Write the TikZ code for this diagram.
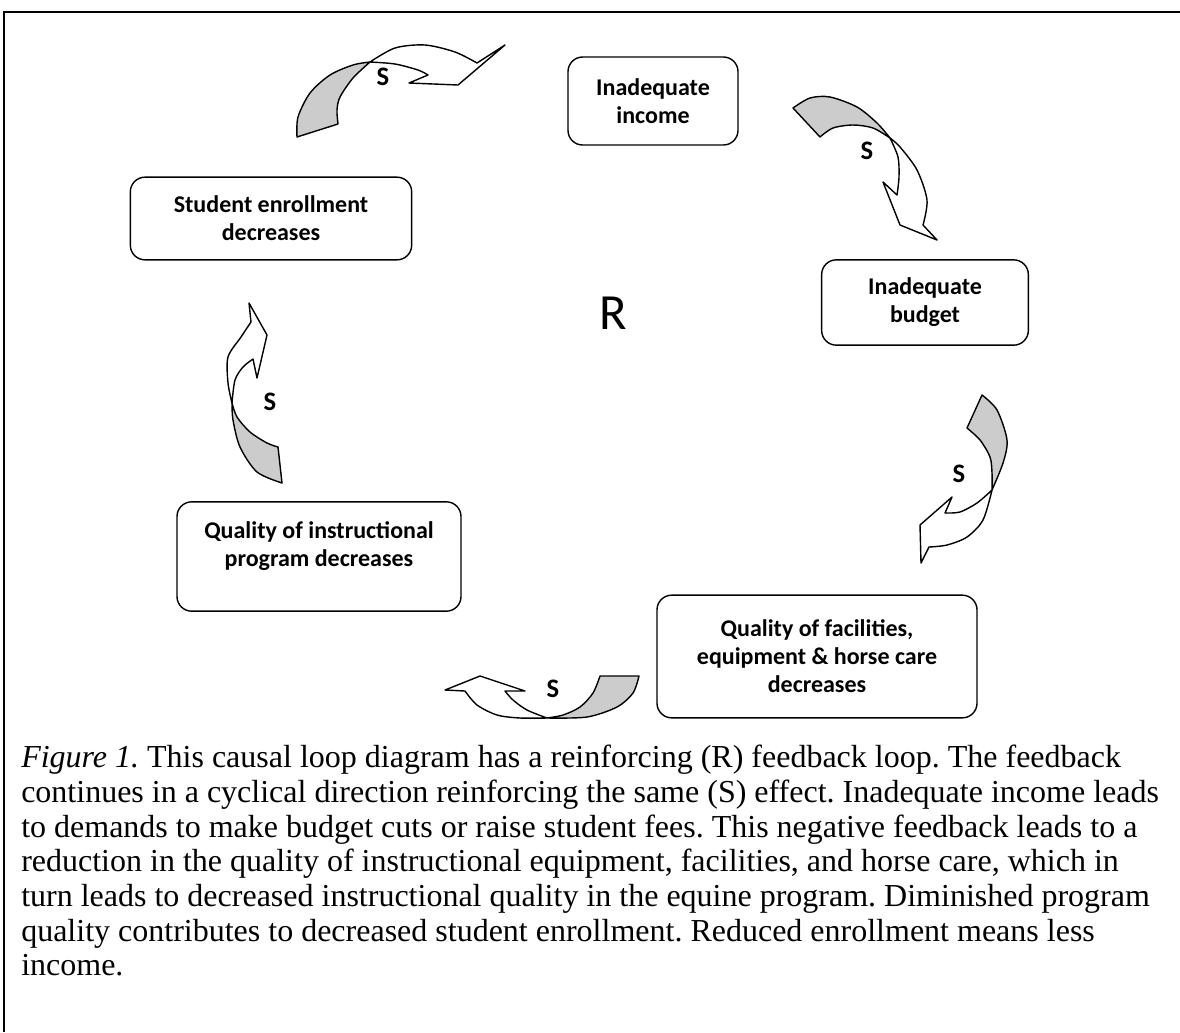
\documentclass[tikz,border=0pt]{standalone}
\usepackage{fontspec}
\setmainfont{Liberation Serif}
\newfontfamily\calibri{Carlito}
\frenchspacing

\begin{document}
\begin{tikzpicture}[x=0.75pt, y=-0.75pt,
box/.style={draw, rounded corners=11pt, line width=1.05pt, align=center,
              inner sep=0pt, font=\calibri\bfseries\fontsize{18}{21}\selectfont},
sgn/.style={inner sep=0pt, font=\calibri\bfseries\fontsize{20}{24}\selectfont},
back/.style={draw, fill=gray!40, line width=1.05pt, line join=round},
front/.style={draw, fill=white, line width=1.05pt, line join=round},
capt/.style={align=left, inner sep=0pt, font=\fontsize{24}{26}\selectfont},
]
\useasboundingbox (0,0) rectangle (1180,1032);
\draw[line width=1.6pt] (4,1032) -- (4,12) -- (1180,12);

% the five stages of the loop
\node[box, minimum width=127.5pt, minimum height=66pt] (income) at (653,101) {Inadequate\\income};
\node[box, minimum width=155pt, minimum height=64pt] (budget) at (925,302.5) {Inadequate\\budget};
\node[box, minimum width=240pt, minimum height=92pt] (facil) at (817,656.5)
  {Quality of facilities,\\equipment \& horse care\\decreases};
\node[box, minimum width=213pt, minimum height=82pt, text depth=19pt] (instr) at (319,556.5)
  {Quality of instructional\\program decreases};
\node[box, minimum width=211pt, minimum height=62pt] (enroll) at (271,218.5) {Student enrollment\\decreases};

\node[font=\calibri\fontsize{38}{40}\selectfont, inner sep=0pt] (loop) at (613,313) {R};

% curved arrows, back side then front side
\draw[back] (297,137) -- (338,124) -- plot[smooth] coordinates {(338,124) (337,110) (340,97) (353,78) (370,62)}
  -- plot[smooth] coordinates {(370,62) (353,65) (330,75) (310,93) (298,117) (297,137)} -- cycle;
\draw[front] (370,62) -- plot[smooth] coordinates {(370,62) (395,64) (418,70) (428,75)} -- (409,83) -- (458,85)
  -- (505,45) -- (477,63) -- plot[smooth] coordinates {(477,63) (455,52) (425,45) (395,48) (370,62)} -- cycle;
\node[sgn] (s1) at (383,77) {S};

\draw[back] (793,108) -- plot[smooth] coordinates {(793,108) (810,98) (830,97) (857,107) (877,123) (890,138)}
  -- plot[smooth] coordinates {(890,138) (873,128) (853,125) (833,128) (820,137)} -- cycle;
\draw[front] (890,138) -- plot[smooth] coordinates {(890,138) (898,157) (899,177) (897,195)} -- (883,182)
  -- (900,225) -- (937,240) -- (923,225) -- plot[smooth] coordinates {(923,225) (927,200) (917,170) (900,147) (890,138)} -- cycle;
\node[sgn] (s2) at (867,151) {S};

\draw[back] (967,428) -- (982,395) -- plot[smooth] coordinates {(982,395) (997,410) (1007,440) (1003,463) (992,490)}
  -- plot[smooth] coordinates {(992,490) (992,473) (990,457) (980,440) (967,428)} -- cycle;
\draw[front] (992,490) -- plot[smooth] coordinates {(992,490) (977,503) (960,512) (945,513)} -- (952,497)
  -- (920,525) -- (921,563) -- (929,547) -- plot[smooth] coordinates {(929,547) (947,545) (967,537) (983,520) (992,490)} -- cycle;
\node[sgn] (s3) at (959,474) {S};

\draw[back] (600,676) -- (639,676) -- plot[smooth] coordinates {(639,676) (633,693) (617,707) (587,717) (547,718)}
  -- plot[smooth] coordinates {(547,718) (563,715) (580,707) (593,693) (600,676)} -- cycle;
\draw[front] (547,718) -- plot[smooth] coordinates {(547,718) (527,710) (513,700) (505,691)} -- (525,691)
  -- (480,676) -- (445,690) -- (465,691) -- plot[smooth] coordinates {(465,691) (477,705) (497,715) (520,718) (547,718)} -- cycle;
\node[sgn] (s4) at (553,689) {S};

\draw[back] (278,447) -- (282,483) -- plot[smooth] coordinates {(282,483) (257,472) (240,447) (233,420) (232,403)}
  -- plot[smooth] coordinates {(232,403) (237,417) (250,432) (267,443) (278,447)} -- cycle;
\draw[front] (232,403) -- plot[smooth] coordinates {(232,403) (235,380) (243,367) (253,359)} -- (257,378)
  -- (267,335) -- (249,303) -- (251,322) -- plot[smooth] coordinates {(251,322) (241,337) (228,357) (228,383) (232,403)} -- cycle;
\node[sgn] (s5) at (270,402) {S};

% caption
\node[capt, anchor=north west] (caption) at (21,745) {\textit{Figure 1.} This causal loop diagram has a reinforcing (R) feedback loop. The feedback\\
continues in a cyclical direction reinforcing the same (S) effect. Inadequate income leads\\
to demands to make budget cuts or raise student fees. This negative feedback leads to a\\
reduction in the quality of instructional equipment, facilities, and horse care, which in\\
turn leads to decreased instructional quality in the equine program. Diminished program\\
quality contributes to decreased student enrollment. Reduced enrollment means less\\
income.};
\end{tikzpicture}
\end{document}
